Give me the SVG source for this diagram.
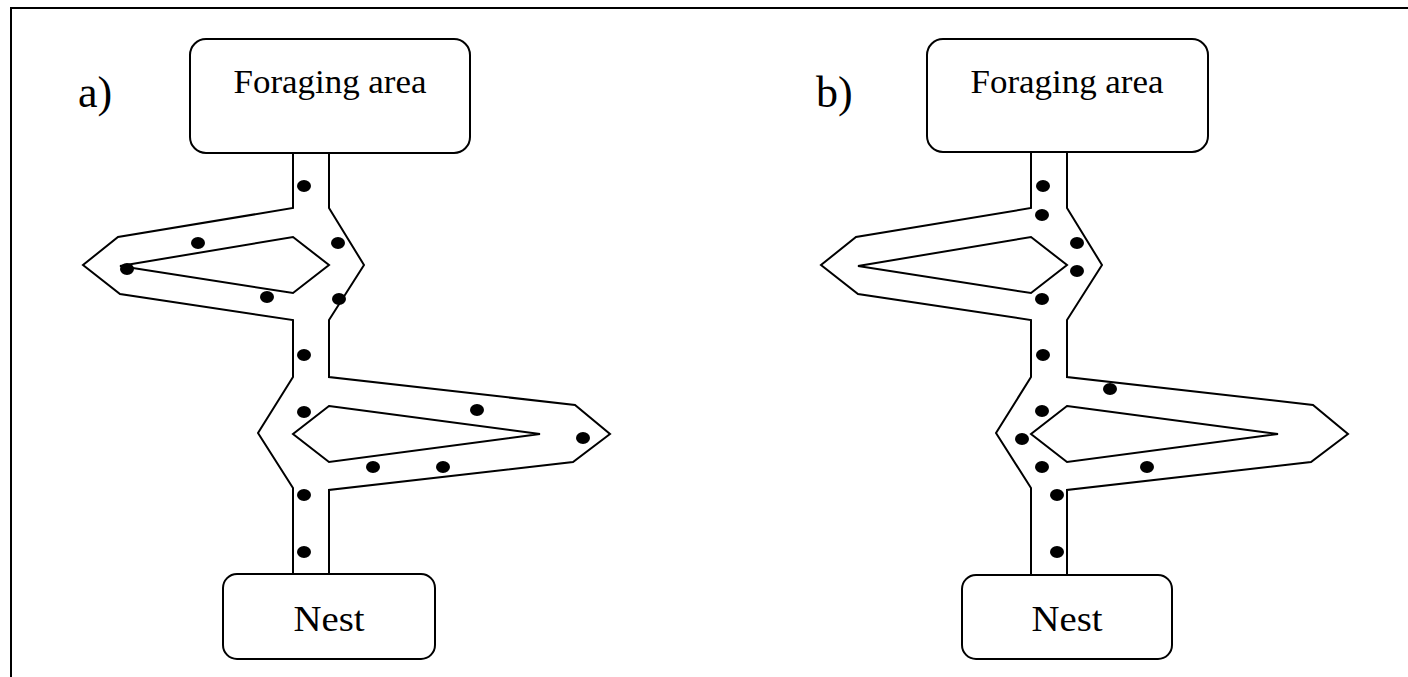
<svg xmlns="http://www.w3.org/2000/svg" width="1408" height="677" viewBox="0 0 1408 677">
<defs>
<style>
.box{fill:#fff;stroke:#000;stroke-width:2}
.wall{fill:none;stroke:#000;stroke-width:2;stroke-linejoin:miter}
.lbl{font-family:"Liberation Serif","Times New Roman",serif;fill:#000}
.ant{fill:#000}
</style>
<g id="trailShape">
<path class="wall" d="M293,153 V208 L118,237 L83,265 L120,294 L293,320 V377 L258,433 L293,488 V574"/>
<path class="wall" d="M329,153 V208 L364,265 L329,320 V377 L575,405 L610,434 L573,462 L329,490 V574"/>
<path class="wall" d="M293,237 L329,265 L293,293 L120,266 Z"/>
<path class="wall" d="M329,406 L540,434 L329,462 L293,434 Z"/>
</g>
</defs>
<rect width="1408" height="677" fill="#fff"/>
<path d="M11,677 V8 H1408" fill="none" stroke="#000" stroke-width="2"/>

<text class="lbl" x="78" y="107" font-size="44">a)</text>
<text class="lbl" x="816" y="107" font-size="44">b)</text>

<g id="connectors">
<use href="#trailShape"/>
<use href="#trailShape" transform="translate(738,0)"/>
</g>

<g id="foraging-a">
<rect class="box" x="190" y="39" width="280" height="114" rx="16"/>
<text class="lbl" x="330" y="93" font-size="33" text-anchor="middle" textLength="193" lengthAdjust="spacingAndGlyphs">Foraging area</text>
</g>
<g id="nest-a">
<rect class="box" x="223" y="574" width="212" height="85" rx="14"/>
<text class="lbl" x="329" y="631" font-size="36" text-anchor="middle" textLength="71" lengthAdjust="spacingAndGlyphs">Nest</text>
</g>
<g id="foraging-b">
<rect class="box" x="927" y="39" width="281" height="113" rx="16"/>
<text class="lbl" x="1067" y="93" font-size="33" text-anchor="middle" textLength="193" lengthAdjust="spacingAndGlyphs">Foraging area</text>
</g>
<g id="nest-b">
<rect class="box" x="962" y="575" width="210" height="84" rx="14"/>
<text class="lbl" x="1067" y="631" font-size="36" text-anchor="middle" textLength="71" lengthAdjust="spacingAndGlyphs">Nest</text>
</g>

<g id="ants-a" class="ant">
<ellipse cx="304" cy="186" rx="7" ry="6"/>
<ellipse cx="198" cy="243" rx="7" ry="6"/>
<ellipse cx="338" cy="243" rx="7" ry="6"/>
<ellipse cx="127" cy="269" rx="7" ry="6"/>
<ellipse cx="267" cy="297" rx="7" ry="6"/>
<ellipse cx="339" cy="299" rx="7" ry="6"/>
<ellipse cx="304" cy="355" rx="7" ry="6"/>
<ellipse cx="304" cy="412" rx="7" ry="6"/>
<ellipse cx="477" cy="410" rx="7" ry="6"/>
<ellipse cx="583" cy="438" rx="7" ry="6"/>
<ellipse cx="373" cy="467" rx="7" ry="6"/>
<ellipse cx="443" cy="467" rx="7" ry="6"/>
<ellipse cx="304" cy="495" rx="7" ry="6"/>
<ellipse cx="304" cy="552" rx="7" ry="6"/>
</g>
<g id="ants-b" class="ant">
<ellipse cx="1043" cy="186" rx="7" ry="6"/>
<ellipse cx="1042" cy="215" rx="7" ry="6"/>
<ellipse cx="1077" cy="243" rx="7" ry="6"/>
<ellipse cx="1077" cy="271" rx="7" ry="6"/>
<ellipse cx="1042" cy="299" rx="7" ry="6"/>
<ellipse cx="1043" cy="355" rx="7" ry="6"/>
<ellipse cx="1110" cy="389" rx="7" ry="6"/>
<ellipse cx="1042" cy="411" rx="7" ry="6"/>
<ellipse cx="1022" cy="439" rx="7" ry="6"/>
<ellipse cx="1042" cy="467" rx="7" ry="6"/>
<ellipse cx="1147" cy="467" rx="7" ry="6"/>
<ellipse cx="1057" cy="495" rx="7" ry="6"/>
<ellipse cx="1057" cy="552" rx="7" ry="6"/>
</g>
</svg>
